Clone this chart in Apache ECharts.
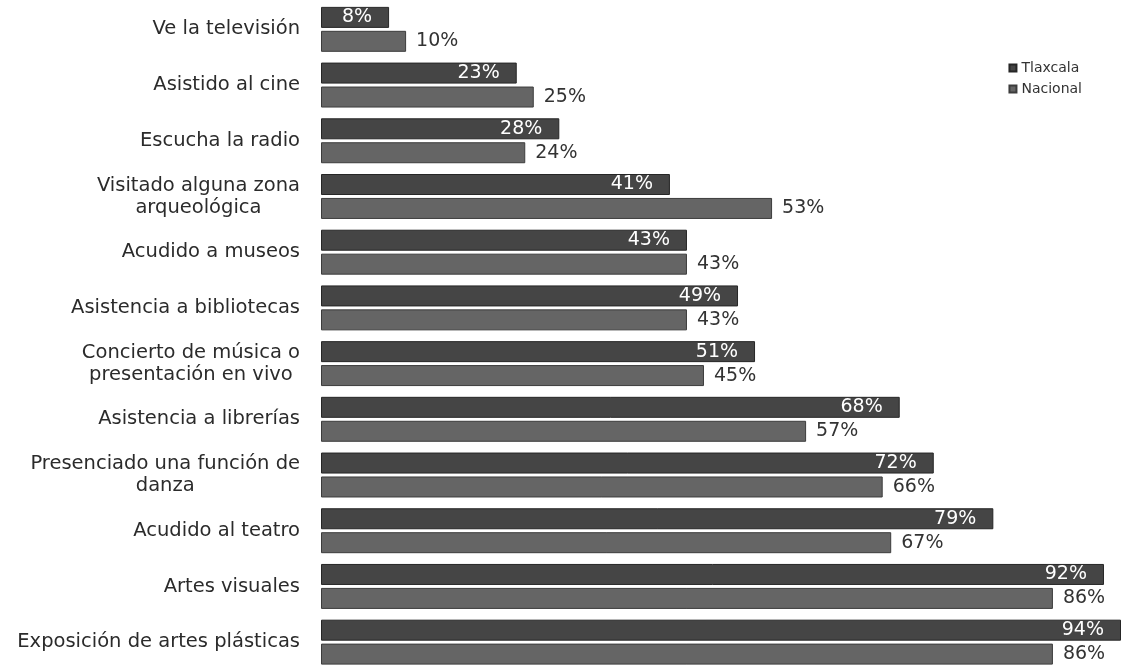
<!DOCTYPE html>
<html>
<head>
<meta charset="utf-8">
<script src="https://cdn.jsdelivr.net/npm/echarts@6/dist/echarts.min.js"></script>
<style>
html,body{margin:0;padding:0;background:#fff;}
#chart{width:1137px;height:670px;}
</style>
</head>
<body>
<div id="chart"></div>
<script>
var categories = [
  "Ve la televisión",
  "Asistido al cine",
  "Escucha la radio",
  "Visitado alguna zona\narqueológica",
  "Acudido a museos",
  "Asistencia a bibliotecas",
  "Concierto de música o\npresentación en vivo",
  "Asistencia a librerías",
  "Presenciado una función de\ndanza",
  "Acudido al teatro",
  "Artes visuales",
  "Exposición de artes plásticas"
];
var tlaxcala = [8, 23, 28, 41, 43, 49, 51, 68, 72, 79, 92, 94];
var nacional = [10, 25, 24, 53, 43, 43, 45, 57, 66, 67, 86, 86];
var seriesNames = ["Tlaxcala", "Nacional"];

var FONT = "DejaVu Sans";
var chart = echarts.init(document.getElementById('chart'));
chart.setOption({
  backgroundColor: '#ffffff',
  animation: false,
  legend: {
    orient: 'vertical',
    right: 50,
    top: 56,
    itemWidth: 7,
    itemHeight: 7,
    itemGap: 7,
    icon: 'rect',
    textStyle: {fontFamily: FONT, fontSize: 14, color: '#333'},
    data: seriesNames
  },
  grid: {left: 321, right: 16, top: 1.5, height: 670, containLabel: false},
  xAxis: {type: 'value', min: 0, max: 94, show: false},
  yAxis: {
    type: 'category',
    inverse: true,
    data: categories,
    axisLine: {show: false},
    axisTick: {show: false},
    axisLabel: {
      margin: 21,
      formatter: function (v) {
        return v.split('\n').map(function (s) { return '{c|' + s + '}'; }).join('\n');
      },
      rich: {c: {align: 'center', fontFamily: FONT, fontSize: 19.5, color: '#2b2b2b', lineHeight: 22}}
    }
  },
  series: [
    {
      name: seriesNames[0],
      type: 'bar',
      data: tlaxcala,
      barWidth: 21,
      barGap: '14%',
      itemStyle: {color: '#454545', borderColor: '#262626', borderWidth: 1},
      label: {show: true, position: 'insideRight', distance: 17, color: '#ffffff',
        fontFamily: FONT, fontSize: 19, formatter: '{c}%'}
    },
    {
      name: seriesNames[1],
      type: 'bar',
      data: nacional,
      barWidth: 21,
      itemStyle: {color: '#656565', borderColor: '#3c3c3c', borderWidth: 1},
      label: {show: true, position: 'right', distance: 10, color: '#333333',
        fontFamily: FONT, fontSize: 19, formatter: '{c}%'}
    }
  ]
});
</script>
</body>
</html>
